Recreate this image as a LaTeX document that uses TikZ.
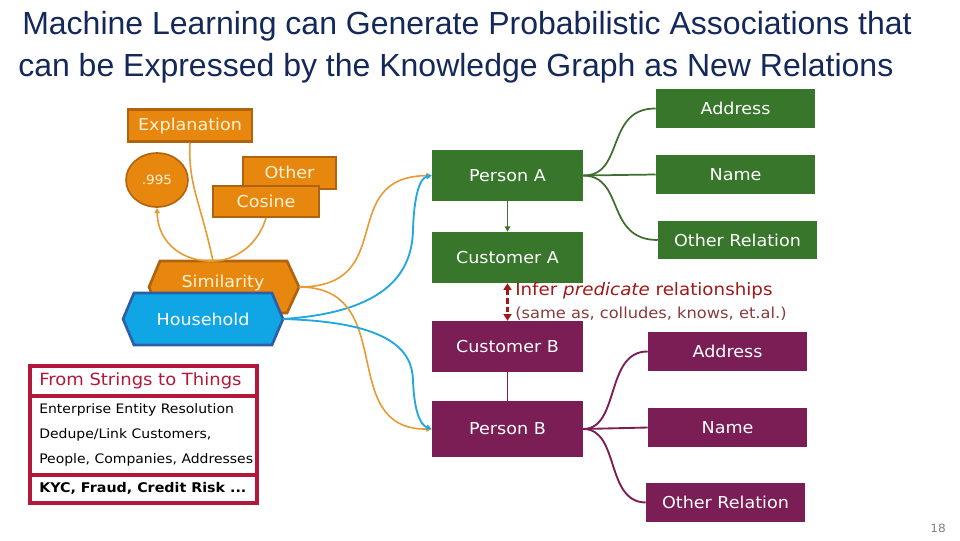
\documentclass[tikz,border=0pt]{standalone}
\usepackage{fontspec}
\setmainfont[FakeStretch=1.07]{DejaVu Sans}
\newfontfamily\titlefont{Liberation Sans}
\usetikzlibrary{arrows.meta,shapes.geometric}
\definecolor{navy}{HTML}{14285A}
\definecolor{orf}{HTML}{E8870E}
\definecolor{orbd}{HTML}{B0630F}
\definecolor{orln}{HTML}{E89A33}
\definecolor{cream}{HTML}{FFF3D8}
\definecolor{bluf}{HTML}{10A6E6}
\definecolor{blubd}{HTML}{2D5EA6}
\definecolor{bluln}{HTML}{22A8DE}
\definecolor{grn}{HTML}{38762B}
\definecolor{grnln}{HTML}{3E6E30}
\definecolor{pur}{HTML}{7B1E55}
\definecolor{purln}{HTML}{7B1E55}
\definecolor{crim}{HTML}{B3183A}
\definecolor{dred}{HTML}{A01818}
\definecolor{gred}{HTML}{8A3A3A}
\tikzset{
  sz/.style 2 args={minimum width=#1*0.75pt, minimum height=#2*0.75pt},
  boxtxt/.style={font=\fontsize{12.3}{14}\selectfont, inner sep=0pt},
  obox/.style={boxtxt, draw=orbd, line width=1.6pt, fill=orf, text=cream},
  gbox/.style={boxtxt, fill=grn, text=white},
  pbox/.style={boxtxt, fill=pur, text=white},
  oline/.style={draw=orln, line width=1.2pt},
  bline/.style={draw=bluln, line width=1.4pt},
  gline/.style={draw=grnln, line width=1.3pt},
  pline/.style={draw=purln, line width=1.4pt},
  tip/.style={-{Triangle[length=4pt,width=4pt]}},
  rtxt/.style={anchor=west, inner sep=0pt, font=\fontsize{9.8}{12}\selectfont},
}
\begin{document}
\begin{tikzpicture}[x=0.75pt,y=-0.75pt]
\useasboundingbox (0,0) rectangle (960,540);
% title
\node[anchor=base west, inner sep=0pt, text=navy, font=\titlefont\fontsize{24}{28}\selectfont] (t1) at (22,34) {Machine Learning can Generate Probabilistic Associations that};
\node[anchor=base west, inner sep=0pt, text=navy, font=\titlefont\fontsize{24}{28}\selectfont] (t2) at (18,76) {can be Expressed by the Knowledge Graph as New Relations};

% orange cluster
\node[obox, sz={124}{32}] (expl) at (190,125.5) {Explanation};
\node[obox, sz={93}{32}, text depth=0pt] (oth) at (289.5,173) {\raisebox{1pt}{Other}};
\node[obox, sz={106}{31}] (cos) at (266,201.5) {Cosine};
\node[ellipse, draw=orbd, line width=1.2pt, fill=orf, text=cream, sz={62}{54}, inner sep=0pt, font=\fontsize{9.5}{11}\selectfont] (p995) at (157,180) {.995};

% similarity hexagon
\draw[draw=orbd, line width=2pt, fill=orf] (149,287) -- (160,261) -- (287,261) -- (299,287) -- (287,313) -- (160,313) -- cycle;
\node[boxtxt, text=cream] (sim) at (223,283) {Similarity};
\coordinate (simR) at (299,287);
\coordinate (simT) at (213,261);
% household hexagon
\draw[draw=blubd, line width=2pt, fill=bluf] (123,319) -- (134,293) -- (272,293) -- (283,319) -- (272,345) -- (134,345) -- cycle;
\node[boxtxt, text=white] (hh) at (203,319) {Household};
\coordinate (hhR) at (283,319);

% connectors into similarity
\draw[oline] (expl.south) .. controls (188,185) and (200,200) .. (simT);
\draw[oline] (cos.south) .. controls (256,250) and (230,261) .. (simT);
\draw[oline, tip] (simT) .. controls (185,262) and (158,245) .. (p995.south);

% green cluster
\node[gbox, sz={151}{51}] (pa) at (507.5,175.5) {Person A};
\node[gbox, sz={151}{51}] (ca) at (507.5,257.5) {\raisebox{-2pt}{Customer A}};
\node[gbox, sz={159}{39}] (adA) at (735.5,108.5) {Address};
\node[gbox, sz={159}{39}] (nmA) at (735.5,174.5) {Name};
\node[gbox, sz={159}{38}] (orA) at (737.5,240) {Other Relation};
\draw[gline] (pa.east) .. controls (625,176) and (605,108) .. (adA.west);
\draw[gline] (pa.east) -- (nmA.west);
\draw[gline] (pa.east) .. controls (625,176) and (605,240) .. (orA.west);
\draw[gline, -{Triangle[length=4pt,width=4pt]}] (pa.south) -- (ca.north);

% purple cluster
\node[pbox, sz={151}{51}] (cb) at (507.5,346.5) {Customer B};
\node[pbox, sz={151}{56}] (pb) at (507.5,429) {Person B};
\node[pbox, sz={159}{39}] (adB) at (727.5,351.5) {Address};
\node[pbox, sz={159}{39}] (nmB) at (727.5,427.5) {Name};
\node[pbox, sz={159}{39}] (orB) at (725.5,502.5) {Other Relation};
\draw[pline] (cb.south) -- (pb.north);
\draw[pline] (pb.east) .. controls (620,429) and (605,351) .. (adB.west);
\draw[pline] (pb.east) -- (nmB.west);
\draw[pline] (pb.east) .. controls (620,429) and (605,502) .. (orB.west);

% inferred relation
\draw[draw=dred, line width=1.8pt, dashed, dash pattern=on 4pt off 2.5pt, {Triangle[length=5pt,width=6pt]}-{Triangle[length=5pt,width=6pt]}] (ca.south) -- (cb.north);
\node[anchor=west, inner sep=0pt, text=dred, font=\fontsize{12.8}{15}\selectfont] (inf) at (515,291) {Infer \textit{predicate} relationships};
\node[anchor=west, inner sep=0pt, text=gred, font=\fontsize{11.4}{13}\selectfont] (inf2) at (515,314) {(same as, colludes, knows, et.al.)};

% ML connectors
\draw[oline, tip] (simR) .. controls (400,287) and (335,177) .. (pa.west);
\draw[bline, tip] (hhR) .. controls (390,312) and (412,270) .. (413,230) .. controls (414,195) and (420,178) .. (pa.west);
\draw[oline, tip] (simR) .. controls (400,287) and (335,430) .. (pb.west);
\draw[bline, tip] (hhR) .. controls (390,322) and (412,350) .. (413,380) .. controls (414,410) and (420,425) .. (pb.west);

% red box
\draw[draw=crim, line width=2.4pt] (30,366) rectangle (257,503);
\draw[draw=crim, line width=2.4pt] (30,396) -- (257,396);
\draw[draw=crim, line width=2.4pt] (30,475) -- (257,475);
\node[rtxt, text=crim, font=\fontsize{12.6}{14}\selectfont] (r1) at (39,381) {From Strings to Things};
\node[rtxt] (r2) at (39,410) {Enterprise Entity Resolution};
\node[rtxt] (r3) at (39,435) {Dedupe/Link Customers,};
\node[rtxt] (r4) at (39,460) {People, Companies, Addresses};
\node[rtxt, font=\bfseries\fontsize{10}{12}\selectfont] (r5) at (39,488) {KYC, Fraud, Credit Risk ...};

\node[inner sep=0pt, text=gray, font=\fontsize{8.5}{10}\selectfont] (pg) at (938,528) {18};
\end{tikzpicture}
\end{document}
